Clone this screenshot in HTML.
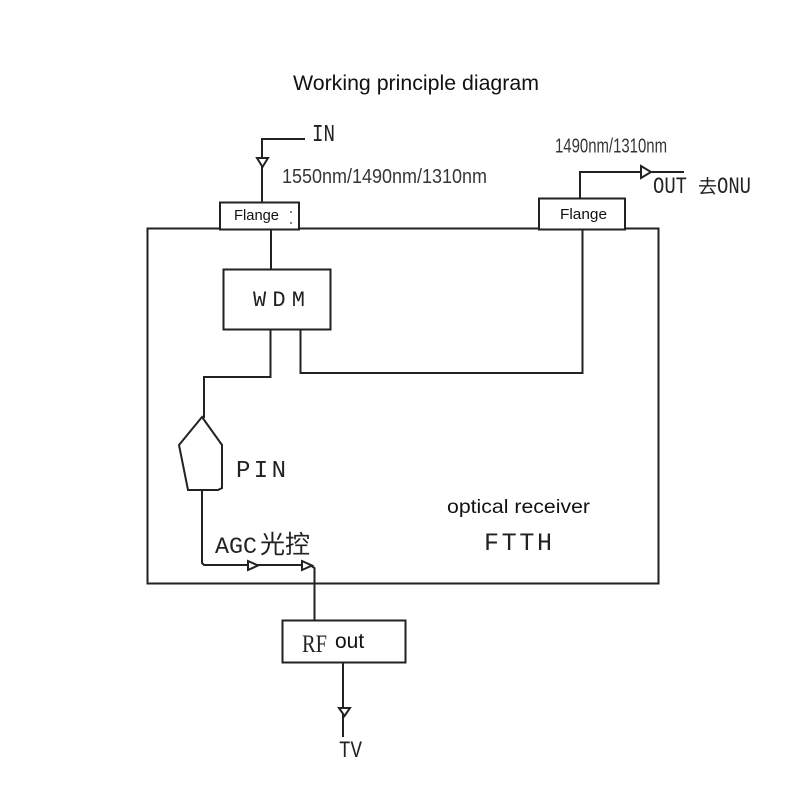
<!DOCTYPE html>
<html>
<head>
<meta charset="utf-8">
<style>
html,body{margin:0;padding:0;background:#fff;width:800px;height:800px;overflow:hidden}
svg{display:block}
.a{font-family:"Liberation Sans",sans-serif;fill:#111}
.m{font-family:"Liberation Mono",monospace;fill:#222}
.c{font-family:"WenQuanYi Zen Hei","Noto Sans CJK SC",sans-serif;fill:#222}
.s{font-family:"Liberation Serif",serif;fill:#222}
</style>
</head>
<body>
<svg width="800" height="800" viewBox="0 0 800 800" xmlns="http://www.w3.org/2000/svg">
<g fill="none" stroke="#222" stroke-width="2">
  <rect x="147.500" y="228.500" width="511" height="355"/>
  <rect x="223.500" y="269.500" width="107" height="60"/>
  <path d="M305 139H262V202"/>
  <path d="M271 230V269"/>
  <path d="M580 198V172H684"/>
  <path d="M270.500 329V377H204V418"/>
  <path d="M300.500 329V373H582.500V229"/>
  <path d="M202 417L222 445V488L218 490H188L179 445Z"/>
  <path d="M202 490V563L204 565H310L314.500 568V620"/>
  <path d="M343 663V737"/>
</g>
<g fill="#fff" stroke="#222" stroke-width="2">
  <rect x="220" y="202.500" width="79" height="27"/>
  <rect x="539" y="198.500" width="86" height="31"/>
  <rect x="282.500" y="620.500" width="123" height="42"/>
  <path d="M257 158H268L262.500 167Z"/>
  <path d="M641 166L651 172L641 178Z"/>
  <path d="M248 561L258 565.500L248 570Z"/>
  <path d="M302 561L312 565.500L302 570Z"/>
  <path d="M339 708H350L344.500 716Z"/>
</g>
<text class="a" x="293" y="90" font-size="21" textLength="246" lengthAdjust="spacingAndGlyphs">Working principle diagram</text>
<text class="a" x="234" y="220" font-size="14.500" textLength="45" lengthAdjust="spacingAndGlyphs">Flange</text>
<text class="a" x="560" y="219" font-size="15" textLength="47" lengthAdjust="spacingAndGlyphs">Flange</text>
<text class="m" x="312" y="141" font-size="24" textLength="23" lengthAdjust="spacingAndGlyphs">IN</text>
<text class="a" x="282" y="183" font-size="20" textLength="205" lengthAdjust="spacingAndGlyphs" fill-opacity="0.85">1550nm/1490nm/1310nm</text>
<text class="a" x="555" y="152.500" font-size="20" textLength="112" lengthAdjust="spacingAndGlyphs" fill-opacity="0.85">1490nm/1310nm</text>
<text class="m" x="653" y="193" font-size="23" textLength="34" lengthAdjust="spacingAndGlyphs">OUT</text>
<text class="c" x="698" y="193" font-size="19">去</text>
<text class="m" x="717" y="193" font-size="23" textLength="34" lengthAdjust="spacingAndGlyphs">ONU</text>
<text class="m" x="253" y="306" font-size="22" textLength="52" lengthAdjust="spacing">WDM</text>
<text class="m" x="236" y="477" font-size="24" textLength="50" lengthAdjust="spacing">PIN</text>
<text class="m" x="215" y="553" font-size="23" textLength="42" lengthAdjust="spacingAndGlyphs">AGC</text>
<text class="c" x="260" y="553" font-size="25">光控</text>
<text class="a" x="447" y="513" font-size="19.500" textLength="143" lengthAdjust="spacingAndGlyphs">optical receiver</text>
<text class="m" x="484" y="550" font-size="25" textLength="68" lengthAdjust="spacing">FTTH</text>
<text class="s" x="302" y="652" font-size="25" textLength="25" lengthAdjust="spacingAndGlyphs">RF</text>
<text class="a" x="335" y="648" font-size="21">out</text>
<text class="m" x="339" y="757" font-size="23" textLength="23" lengthAdjust="spacingAndGlyphs">TV</text>
<circle cx="291" cy="212" r="0.9" fill="#333"/>
<circle cx="291" cy="223" r="0.9" fill="#333"/>
</svg>
</body>
</html>
